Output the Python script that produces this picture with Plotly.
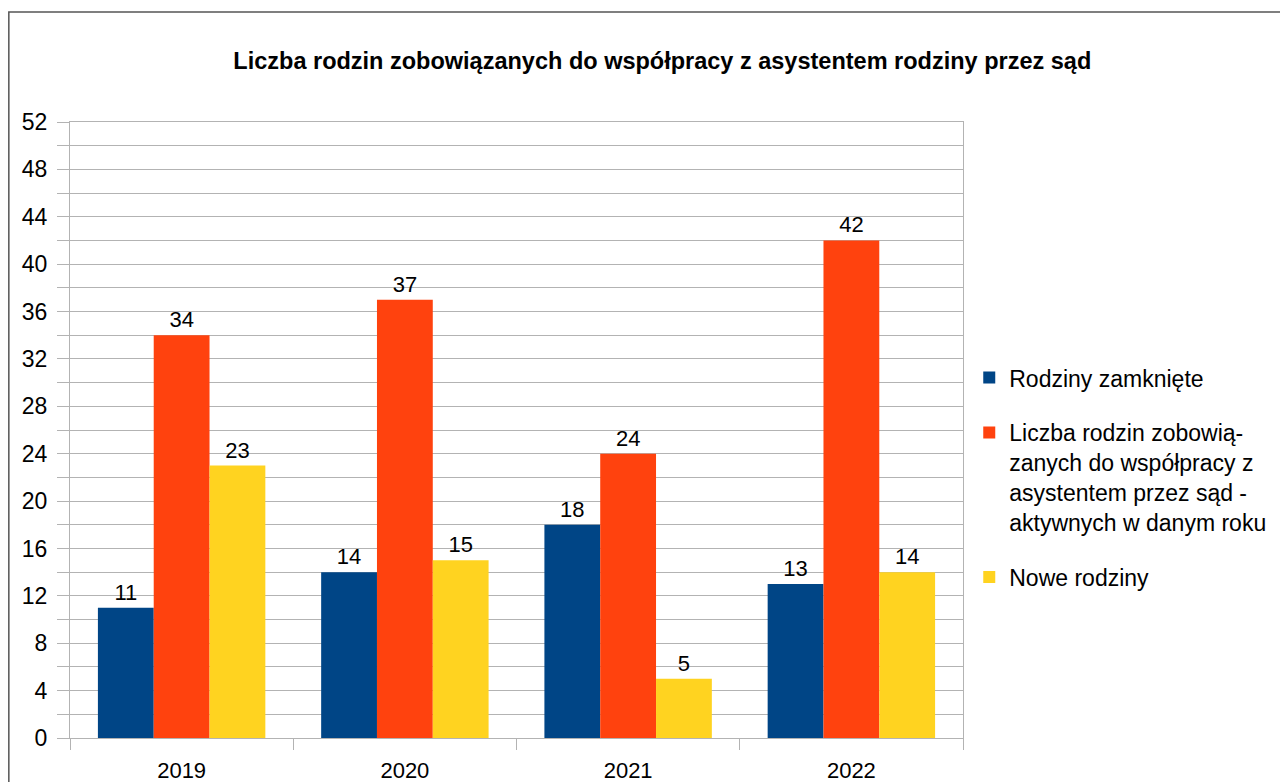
import plotly.graph_objects as go

years = ["2019", "2020", "2021", "2022"]
closed = [11, 14, 18, 13]
court_active = [34, 37, 24, 42]
new_families = [23, 15, 5, 14]

names = [
    "Rodziny zamknięte",
    "Liczba rodzin zobowią-<br>zanych do współpracy z<br>asystentem przez sąd -<br>aktywnych w danym roku",
    "Nowe rodziny",
]
colors = ["#004586", "#ff420e", "#ffd320"]
series = [closed, court_active, new_families]

FONT = "Liberation Sans, Arial, sans-serif"
GRID = "#b3b3b3"

fig = go.Figure()
for name, vals, col in zip(names, series, colors):
    fig.add_trace(go.Bar(
        x=years, y=vals, name=name, legendgroup=name,
        marker=dict(color=col, line=dict(width=0)),
        text=vals, textposition="outside", cliponaxis=False,
        textfont=dict(size=22, color="#000000", family=FONT),
    ))

# the page body has an 8px margin, so margins are offset by 8px
fig.update_layout(
    width=1288, height=782,
    margin=dict(l=62, r=333, t=114, b=52, autoexpand=False),
    paper_bgcolor="white", plot_bgcolor="white",
    font=dict(family=FONT, size=22, color="#000000"),
    title=dict(
        text="<b>Liczba rodzin zobowiązanych do współpracy z asystentem rodziny przez sąd</b>",
        x=0.508, xanchor="center", y=0.933, yanchor="middle",
        font=dict(size=23.5, family=FONT, color="#000000"),
    ),
    barmode="group", bargap=0.25, bargroupgap=0,
    showlegend=True,
    legend=dict(
        x=1.007, xanchor="left", y=0.62, yanchor="top",
        traceorder="grouped", tracegroupgap=22, valign="top",
        font=dict(size=23, family=FONT), bgcolor="rgba(0,0,0,0)",
    ),
)

fig.update_xaxes(
    automargin=False,
    showline=True, linecolor=GRID, linewidth=1, mirror=True,
    ticks="outside", ticklen=11, tickcolor=GRID, tickson="boundaries",
    showgrid=False, tickfont=dict(size=22), ticklabelstandoff=13,
)
fig.update_yaxes(
    automargin=False,
    range=[0, 52], dtick=4, tick0=0,
    showline=True, linecolor=GRID, linewidth=1, mirror=True,
    ticks="outside", ticklen=12, tickcolor=GRID,
    showgrid=True, gridcolor=GRID, gridwidth=1, zeroline=False,
    minor=dict(dtick=2, ticks="outside", ticklen=12, tickcolor=GRID,
               showgrid=True, gridcolor=GRID, gridwidth=1),
    tickfont=dict(size=23), ticklabelstandoff=5,
)

# outer chart frame (cropped at right and bottom)
fig.add_shape(type="rect", xref="paper", yref="paper",
              x0=-0.0685, x1=1.6, y0=-0.3, y1=1.1786,
              line=dict(color="#555555", width=1.5), layer="below")

fig.write_html("out.html")
